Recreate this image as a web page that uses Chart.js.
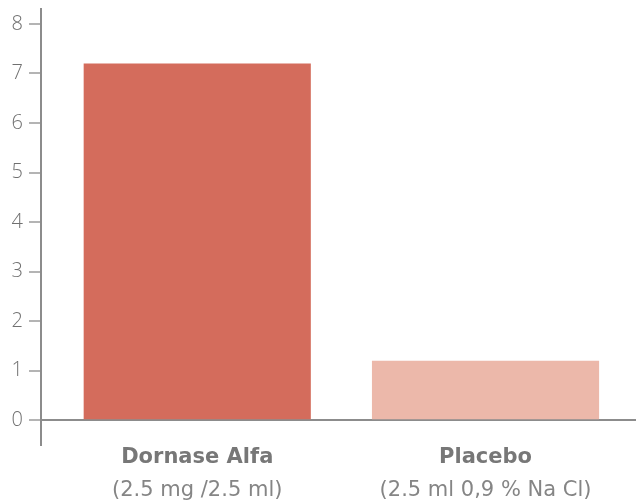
<!DOCTYPE html>
<html>
<head>
<meta charset="utf-8">
<script src="https://cdn.jsdelivr.net/npm/chart.js@4/dist/chart.umd.min.js"></script>
<style>
  html, body { margin: 0; padding: 0; background: #fff; }
  #wrap { width: 636px; height: 502px; }
</style>
</head>
<body>
<div id="wrap"><canvas id="bar-chart"></canvas></div>
<script>
var categories = ['Dornase Alfa', 'Placebo'];
var subtitles = ['(2.5 mg /2.5 ml)', '(2.5 ml 0,9 % Na Cl)'];
var values = [7.2, 1.2];
var barColors = ['#d46c5c', '#ecb8aa'];
var yTicks = [0, 1, 2, 3, 4, 5, 6, 7, 8];

var axisGrey = '#8c8c8c';
var textGrey = '#777777';

function categoryTicks(scale)
{
  scale.ticks = categories.map(function (c, i) { return { value: i }; });
}

var bar_chart = new Chart(document.getElementById('bar-chart'), {
  type: 'bar',
  data: {
    datasets: [{
      data: values.map(function (v, i) { return { x: i, y: v }; }),
      backgroundColor: barColors,
      borderWidth: 0,
      categoryPercentage: 1,
      barPercentage: 0.788
    }]
  },
  options: {
    animation: false,
    responsive: true,
    maintainAspectRatio: false,
    layout: { padding: { top: 9, left: 0, right: 0, bottom: 0 } },
    plugins: {
      legend: { display: false },
      tooltip: { enabled: false }
    },
    scales: {
      x: {
        type: 'linear',
        position: 'bottom',
        weight: 0,
        offset: false,
        min: -0.542,
        max: 1.522,
        afterBuildTicks: categoryTicks,
        afterFit: function (s) { s.height = 33; s.paddingLeft = 0; s.paddingRight = 0; },
        grid: { display: false, drawTicks: false, offset: false },
        border: { display: false },
        ticks: {
          autoSkip: false,
          maxRotation: 0,
          padding: 0,
          color: textGrey,
          font: { family: 'DejaVu Sans', size: 21, weight: 'bold' },
          callback: function (v) { return categories[v]; }
        }
      },
      x2: {
        type: 'linear',
        position: 'bottom',
        weight: 1,
        offset: false,
        min: -0.542,
        max: 1.522,
        afterBuildTicks: categoryTicks,
        afterFit: function (s) { s.height = 24; s.paddingLeft = 0; s.paddingRight = 0; },
        grid: { display: false, drawTicks: false, offset: false },
        border: { display: false },
        ticks: {
          autoSkip: false,
          maxRotation: 0,
          padding: 0,
          color: '#858585',
          font: { family: 'DejaVu Sans', size: 21, weight: 'normal' },
          callback: function (v) { return subtitles[v]; }
        }
      },
      y: {
        min: -0.5,
        max: 8.3,
        afterBuildTicks: function (scale) {
          scale.ticks = yTicks.map(function (v) { return { value: v }; });
        },
        afterFit: function (s) {
          s.width = 41;
          s.paddingTop = 0;
          s.paddingBottom = 0;
        },
        border: { display: true, color: axisGrey, width: 2 },
        grid: {
          drawTicks: true,
          tickLength: 12,
          tickColor: axisGrey,
          tickWidth: 1.3,
          lineWidth: 2,
          color: function (ctx) {
            return ctx.tick && ctx.tick.value === 0 ? axisGrey : 'rgba(0,0,0,0)';
          }
        },
        ticks: {
          padding: 6,
          color: '#707070',
          font: { family: 'Open Sans', size: 20, weight: 300 }
        }
      }
    }
  }
});
</script>
</body>
</html>
